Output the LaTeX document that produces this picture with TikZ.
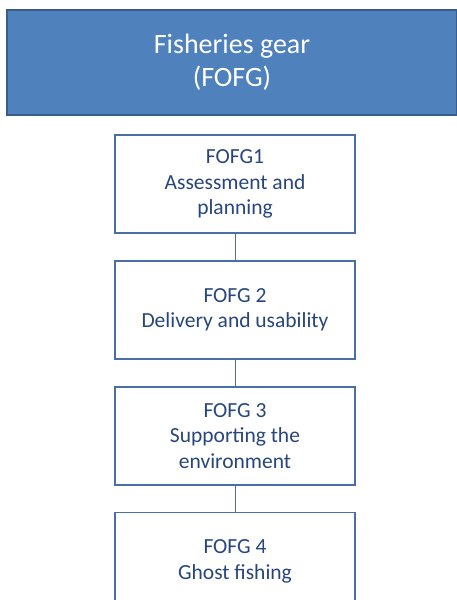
\documentclass[tikz,border=0pt]{standalone}
\usepackage{fontspec}
\setmainfont{Carlito}
\usetikzlibrary{positioning}
\definecolor{gearblue}{RGB}{79,129,189}
\definecolor{gearedge}{RGB}{56,93,138}
\definecolor{gearline}{RGB}{74,110,166}
\definecolor{geartext}{RGB}{40,70,125}
\tikzset{x=1pt,y=1pt,node distance=26pt}
\tikzset{head/.style={rectangle,draw=gearedge,line width=1.8pt,fill=gearblue,text=white,
        minimum width=450pt,minimum height=105pt,align=center,
        font=\fontsize{28}{33}\selectfont},
    unit/.style={rectangle,draw=gearline,line width=1.8pt,fill=white,text=geartext,
        minimum width=240pt,minimum height=98pt,align=center,inner sep=0pt,
        font=\fontsize{21.5}{25.5}\selectfont},
    link/.style={draw=gearline,line width=1pt}}

\begin{document}
\begin{tikzpicture}
    \useasboundingbox (0,0) rectangle (456,-600);
    \node[head] (fofg) at (232,-62.5) {Fisheries gear\\(FOFG)};
    \node[unit] (g1) at (235,-184) {FOFG1\\Assessment and\\planning};
    \node[unit] (g2) [below=of g1] {FOFG 2\\Delivery and usability};
    \node[unit] (g3) [below=of g2] {FOFG 3\\Supporting the\\environment};
    \node[unit] (g4) [below=of g3] {FOFG 4\\Ghost fishing};
    \path[link]
        (g1) edge (g2)
        (g2) edge (g3)
        (g3) edge (g4);
\end{tikzpicture}
\end{document}
